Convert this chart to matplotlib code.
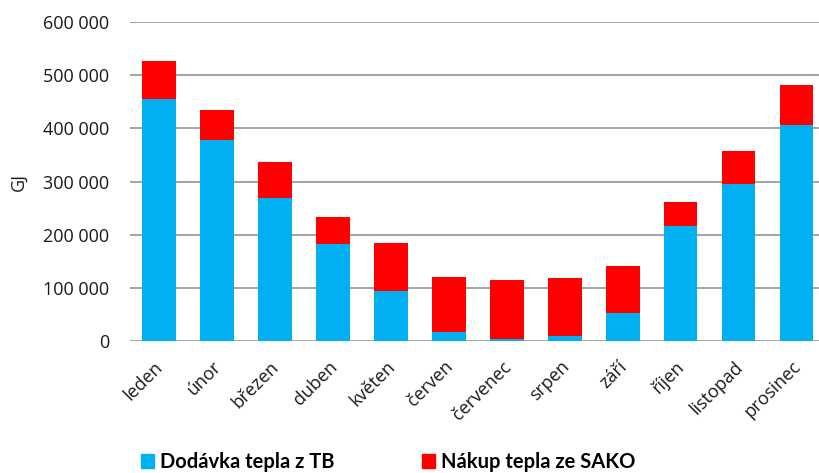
import matplotlib
matplotlib.use("Agg")
import matplotlib.pyplot as plt
import matplotlib.transforms as mtransforms
from matplotlib.patches import Patch
from matplotlib.ticker import FuncFormatter

months = ["leden", "únor", "březen", "duben", "květen", "červen",
          "červenec", "srpen", "září", "říjen", "listopad", "prosinec"]
dodavka_tb = [455000, 378000, 269000, 183000, 94000, 17000,
              3000, 9000, 52000, 216000, 295000, 407000]
nakup_sako = [72000, 56000, 67000, 51000, 91000, 104000,
              111000, 110000, 90000, 46000, 62000, 74000]

BLUE = "#00B0F0"
RED = "#FF0000"

plt.rcParams["font.family"] = ["Open Sans", "DejaVu Sans"]

fig = plt.figure(figsize=(8.19, 4.73), dpi=100)
ax = fig.add_axes([130 / 819, (473 - 341) / 473, (819 - 130) / 819, (341 - 22) / 473])

x = range(len(months))
ax.bar(x, dodavka_tb, width=0.57, color=BLUE, zorder=3)
ax.bar(x, nakup_sako, width=0.57, bottom=dodavka_tb, color=RED, zorder=3)

ax.set_ylim(0, 600000)
ax.set_xlim(-0.5, 11.38)
ax.set_yticks(range(0, 600001, 100000))
ax.yaxis.set_major_formatter(FuncFormatter(lambda v, p: f"{int(v):,}".replace(",", " ")))
ax.grid(axis="y", color="#8c8c8c", linewidth=1.1, zorder=0)
for s in ax.spines.values():
    s.set_visible(False)
ax.tick_params(axis="both", length=0, labelsize=13, colors="#1a1a1a")
ax.tick_params(axis="y", pad=15)
ax.set_xticks(list(x))
ax.set_xticklabels(months, rotation=45, ha="right", rotation_mode="anchor")
ax.tick_params(axis="x", pad=12)
shift = mtransforms.ScaledTranslation(-5 / 100, 0, fig.dpi_scale_trans)
for lbl in ax.get_xticklabels():
    lbl.set_transform(lbl.get_transform() + shift)
ax.set_ylabel("GJ", fontsize=13, color="#1a1a1a", labelpad=11)

handles = [Patch(color=BLUE, label="Dodávka tepla z TB"),
           Patch(color=RED, label="Nákup tepla ze SAKO")]
fig.legend(handles=handles, loc="center left", bbox_to_anchor=(123 / 819, 1 - 462 / 473),
           ncol=2, frameon=False, handlelength=0.65, handleheight=0.75, handletextpad=0.3,
           columnspacing=4.35, prop={"family": ["Lato", "DejaVu Sans"],
                                     "weight": "bold", "size": 14.5})

fig.savefig("out.png", dpi=100)
